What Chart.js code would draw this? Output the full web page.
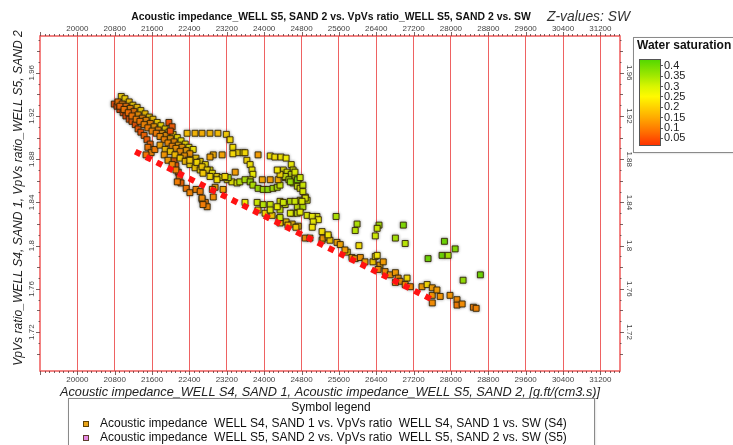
<!DOCTYPE html>
<html>
<head>
<meta charset="utf-8">
<script src="https://cdn.jsdelivr.net/npm/chart.js@4.4.1/dist/chart.umd.min.js"></script>
<style>
  html, body { margin: 0; padding: 0; background: #fff; }
  #wrap { width: 733px; height: 445px; position: relative; overflow: hidden; }
</style>
</head>
<body>
<div id="wrap"><canvas id="c" width="733" height="445"></canvas></div>
<script>
// Axis tick labels
const xTickLabels = ['20000','20800','21600','22400','23200','24000','24800','25600','26400','27200','28000','28800','29600','30400','31200'];
const yTickLabels = ['1.72','1.76','1.8','1.84','1.88','1.92','1.96'];
const swTickLabels = ['0.05','0.1','0.15','0.2','0.25','0.3','0.35','0.4'];

// WELL S4, SAND 1: acoustic impedance, Vp/Vs ratio, water saturation
const s4Imp = [20940,21020,21110,21190,21280,21360,21450,21540,21620,21710,21790,21880,21960,22050,22140,22220,22310,22390,22480,
  20790,20850,20910,20980,21040,21110,21170,21240,21300,21360,21430,21490,21560,
  20870,20960,21040,21130,21210,21300,21390,21470,21560,21640,21730,21810,21900,21990,22070,22160,22240,22330,22410,
  20910,21000,21090,21170,21260,21340,21430,21510,21600,21690,21770,21860,21940,22030,22110,22200,22290,22370,
  21510,21580,21470,21660,
  21960,22030,21990,22070,22110,22160,22180,22220,22330,22410,22540,22630,22670,22740,22780,
  21770,21880,21990,22090,22200,22310,22410,22520,22630,21860,21940,22030,22110,22540,22630,22740,22840,
  22950,23590,23870,24020,24170,24320,24470,24600,24730,24340,24510,24680,
  24880,24980,25240,25260,25370,25410,25560,25780,25880,25950,
  25630,25730,26060,26160,26330,26380,26420,26480,26550,26440,
  26590,26700,26810,26870,26910,27060,27020,26810,27130,27380,
  27490,27600,27600,27700,27770,27600,27980,28130,28130,28240,
  28480,28540];
const s4Vpvs = [1.938,1.936,1.933,1.930,1.928,1.925,1.922,1.919,1.917,1.914,1.911,1.908,1.905,1.903,1.900,1.897,1.894,1.891,1.889,
  1.931,1.929,1.926,1.923,1.920,1.917,1.915,1.912,1.908,1.905,1.902,1.898,1.894,
  1.933,1.931,1.929,1.927,1.924,1.921,1.918,1.916,1.913,1.910,1.907,1.904,1.902,1.899,1.896,1.893,1.891,1.888,1.885,
  1.929,1.926,1.923,1.920,1.917,1.915,1.912,1.909,1.906,1.904,1.901,1.898,1.895,1.892,1.890,1.887,1.883,1.879,
  1.891,1.886,1.884,1.889,
  1.914,1.910,1.906,1.879,1.874,1.868,1.863,1.858,1.853,1.849,1.852,1.850,1.843,1.840,1.836,
  1.893,1.889,1.887,1.884,1.881,1.878,1.875,1.872,1.870,1.884,1.879,1.875,1.870,1.881,1.878,1.875,1.870,
  1.854,1.840,1.833,1.830,1.828,1.825,1.822,1.820,1.818,1.821,1.819,1.817,
  1.807,1.807,1.805,1.807,1.808,1.805,1.803,1.794,1.789,1.788,
  1.801,1.796,1.789,1.785,1.785,1.790,1.791,1.782,1.785,1.778,
  1.776,1.773,1.775,1.770,1.767,1.770,1.764,1.766,1.762,1.762,
  1.764,1.761,1.754,1.759,1.753,1.747,1.754,1.750,1.745,1.746,
  1.743,1.742];
const s4Sw = [.21,.21,.19,.21,.19,.21,.19,.21,.19,.21,.23,.21,.23,.21,.23,.24,.23,.25,.24,
  .04,.04,.04,.05,.04,.05,.06,.05,.06,.05,.07,.06,.07,
  .09,.11,.09,.11,.09,.13,.11,.12,.11,.14,.12,.14,.13,.14,.12,.15,.14,.15,.13,
  .07,.09,.08,.09,.10,.09,.11,.10,.11,.10,.12,.11,.12,.11,.13,.12,.13,.14,
  .09,.11,.09,.10,
  .05,.06,.05,.07,.06,.05,.06,.07,.09,.11,.11,.10,.11,.10,.11,
  .15,.18,.20,.18,.20,.18,.22,.20,.22,.13,.14,.12,.11,.20,.22,.23,.25,
  .15,.25,.20,.22,.20,.22,.20,.18,.20,.20,.18,.20,
  .12,.13,.22,.14,.22,.20,.15,.22,.14,.13,
  .15,.14,.13,.14,.20,.22,.24,.15,.14,.12,
  .12,.13,.14,.12,.13,.22,.12,.14,.12,.14,
  .22,.14,.13,.14,.13,.12,.13,.12,.10,.12,
  .10,.11];

// WELL S5, SAND 2: acoustic impedance, Vp/Vs ratio, water saturation
const s5Imp = [22350,22520,22670,22840,23010,23190,23270,23330,23440,23550,23630,23700,23740,23760,23700,
  22910,23100,23330,23590,23870,24130,24230,24360,24470,24580,24620,23380,22840,
  22410,22560,22670,22780,22890,22990,23100,23210,23310,23420,23480,23590,23700,23760,23870,23980,24080,24190,24280,24340,23230,23960,24130,24300,24450,
  24410,24490,24580,24660,24730,24450,24530,24620,24710,24770,24340,24830,24280,24560,24710,
  22670,22690,22140,22890,22910,23120,22840,22690,22990,23160,
  23850,23980,24130,24340,24450,24560,24770,24880,24340,24620,24770,24130,24280,24710,24830,24920,24710,24560,24340,24920,25130,
  24660,24770,24830,24880,24410,24660,24810,24770,25030,25160,25050,25030,25240,25370,
  25540,25990,25950,26030,26460,26420,26380,26980,26810,27020,27860,28090,27510,27810,27940,28260,28630];
const s5Vpvs = [1.904,1.904,1.904,1.904,1.904,1.903,1.898,1.891,1.886,1.886,1.879,1.875,1.870,1.866,1.861,
  1.884,1.884,1.885,1.886,1.884,1.883,1.882,1.882,1.881,1.875,1.870,1.868,1.882,
  1.879,1.877,1.873,1.870,1.867,1.864,1.863,1.861,1.859,1.858,1.859,1.861,1.859,1.856,1.853,1.852,1.852,1.853,1.854,1.856,1.863,1.861,1.861,1.861,1.863,
  1.870,1.868,1.866,1.863,1.860,1.864,1.861,1.858,1.855,1.853,1.866,1.856,1.870,1.859,1.861,
  1.844,1.838,1.859,1.852,1.845,1.852,1.864,1.867,1.861,1.864,
  1.840,1.838,1.838,1.841,1.838,1.841,1.842,1.845,1.833,1.830,1.835,1.833,1.836,1.836,1.836,1.842,1.830,1.830,1.826,1.828,1.827,
  1.868,1.863,1.850,1.844,1.840,1.841,1.841,1.831,1.827,1.824,1.822,1.817,1.813,1.810,
  1.827,1.820,1.814,1.800,1.819,1.816,1.809,1.819,1.807,1.802,1.804,1.797,1.788,1.791,1.791,1.768,1.773];
const s5Sw = [.18,.17,.16,.17,.18,.20,.22,.23,.22,.24,.22,.24,.25,.26,.28,
  .16,.15,.22,.22,.14,.24,.23,.24,.25,.26,.28,.14,.15,
  .20,.22,.20,.22,.24,.22,.25,.24,.26,.28,.32,.33,.35,.33,.35,.34,.36,.34,.33,.30,.33,.15,.14,.16,.20,
  .25,.28,.30,.30,.32,.30,.33,.35,.30,.28,.22,.30,.24,.35,.38,
  .12,.10,.10,.14,.12,.15,.22,.20,.23,.22,
  .30,.32,.30,.28,.30,.32,.30,.28,.30,.32,.30,.28,.26,.30,.32,.30,.30,.28,.30,.28,.27,
  .28,.30,.28,.27,.30,.30,.28,.27,.26,.25,.26,.24,.23,.24,
  .33,.33,.32,.23,.34,.30,.30,.38,.34,.32,.40,.38,.40,.40,.34,.36,.40];

// Lower-bound trend line
const trendImp = [21240, 27600];
const trendVpvs = [1.887, 1.750];

const FONT = '"Liberation Sans", Arial, Helvetica, sans-serif';
const SW_MIN = 0.016, SW_MAX = 0.43;
const swStops = [
  [0.016, [255, 51, 0]],
  [0.08,  [255, 112, 0]],
  [0.15,  [255, 172, 0]],
  [0.25,  [255, 250, 0]],
  [0.30,  [215, 245, 0]],
  [0.35,  [160, 232, 0]],
  [0.43,  [80, 215, 0]]
];
function swRgb(v) {
  if (v <= swStops[0][0]) return swStops[0][1];
  for (let i = 1; i < swStops.length; i++) {
    const [v1, c1] = swStops[i];
    const [v0, c0] = swStops[i - 1];
    if (v <= v1) {
      const t = (v - v0) / (v1 - v0);
      return c0.map((c, k) => Math.round(c + (c1[k] - c) * t));
    }
  }
  return swStops[swStops.length - 1][1];
}
function swColor(v) { const c = swRgb(v); return `rgb(${c[0]},${c[1]},${c[2]})`; }

function toPoints(imp, vpvs) { return imp.map((x, i) => ({ x, y: vpvs[i] })); }

function pointDataset(label, imp, vpvs, sw, order, legendColor) {
  return {
    label,
    data: toPoints(imp, vpvs),
    order,
    legendColor,
    pointStyle: 'rect',
    pointRadius: 4.2,
    pointBorderWidth: 1,
    pointBackgroundColor: ctx => swColor(sw[ctx.dataIndex]),
    pointBorderColor: 'rgba(45,30,0,0.85)',
    showLine: false
  };
}

function fitFont(ctx, text, style, size, width) {
  ctx.font = `${style} ${size}px ${FONT}`;
  const w = ctx.measureText(text).width;
  const s = Math.max(size * 0.8, Math.min(size * 1.2, size * width / w));
  ctx.font = `${style} ${s.toFixed(2)}px ${FONT}`;
}

const glow = {
  id: 'glow',
  beforeDatasetDraw(chart, args) {
    if (!chart.data.datasets[args.index].showLine) {
      chart.ctx.save();
      chart.ctx.shadowColor = 'rgba(70,70,70,0.5)';
      chart.ctx.shadowBlur = 3;
    }
  },
  afterDatasetDraw(chart, args) {
    if (!chart.data.datasets[args.index].showLine) chart.ctx.restore();
  }
};

const frame = {
  id: 'frame',
  afterDraw(chart) {
    const { ctx, chartArea: a, scales: { x, y } } = chart;
    ctx.save();

    // plot frame
    ctx.strokeStyle = 'rgba(238,80,80,0.95)';
    ctx.lineWidth = 1.5;
    ctx.strokeRect(a.left, a.top, a.right - a.left, a.bottom - a.top);

    // tick marks on all four sides
    ctx.strokeStyle = 'rgba(90,60,60,0.8)';
    ctx.lineWidth = 1;
    ctx.beginPath();
    for (let k = 192; k * 100 <= x.max; k++) {
      const px = Math.round(x.getPixelForValue(k * 100)) + 0.5;
      const L = k % 8 === 0 ? 4 : 2;
      ctx.moveTo(px, a.top); ctx.lineTo(px, a.top - L);
      ctx.moveTo(px, a.bottom); ctx.lineTo(px, a.bottom + L);
    }
    for (let k = 170; k <= 199; k += 1) {
      const v = k / 100;
      if (v < y.min || v > y.max) continue;
      const py = Math.round(y.getPixelForValue(v)) + 0.5;
      const L = k % 4 === 0 ? 4 : (k % 2 === 0 ? 3 : 1.5);
      ctx.moveTo(a.left, py); ctx.lineTo(a.left - L, py);
      ctx.moveTo(a.right, py); ctx.lineTo(a.right + L, py);
    }
    ctx.stroke();

    // x tick labels, top and bottom
    ctx.fillStyle = '#444';
    ctx.font = `8px ${FONT}`;
    ctx.textAlign = 'center';
    ctx.textBaseline = 'middle';
    xTickLabels.forEach(t => {
      const px = x.getPixelForValue(+t);
      ctx.fillText(t, px, a.top - 7);
      ctx.fillText(t, px, a.bottom + 9);
    });
    // y tick labels, rotated
    yTickLabels.forEach(t => {
      const py = y.getPixelForValue(+t);
      ctx.save(); ctx.translate(a.left - 8, py); ctx.rotate(-Math.PI / 2); ctx.fillText(t, 0, 0); ctx.restore();
      ctx.save(); ctx.translate(a.right + 9, py); ctx.rotate(Math.PI / 2); ctx.fillText(t, 0, 0); ctx.restore();
    });

    // chart title
    const title = 'Acoustic impedance_WELL S5, SAND 2 vs. VpVs ratio_WELL S5, SAND 2 vs. SW';
    ctx.fillStyle = '#111';
    fitFont(ctx, title, 'bold', 11, 400);
    ctx.textAlign = 'center';
    ctx.fillText(title, 331, 17);
    ctx.fillStyle = '#333';
    fitFont(ctx, 'Z-values: SW', 'italic', 13, 83);
    ctx.textAlign = 'left';
    ctx.fillText('Z-values: SW', 547, 17);

    // axis titles
    const xTitle = 'Acoustic impedance_WELL S4, SAND 1, Acoustic impedance_WELL S5, SAND 2, [g.ft/(cm3.s)]';
    ctx.fillStyle = '#222';
    fitFont(ctx, xTitle, 'italic', 13, 540);
    ctx.textAlign = 'center';
    ctx.fillText(xTitle, 330, 392);
    const yTitle = 'VpVs ratio_WELL S4, SAND 1, VpVs ratio_WELL S5, SAND 2';
    fitFont(ctx, yTitle, 'italic', 13, 336);
    ctx.save(); ctx.translate(19, 198); ctx.rotate(-Math.PI / 2); ctx.fillText(yTitle, 0, 0); ctx.restore();

    // colour scale box
    ctx.save();
    ctx.shadowColor = 'rgba(0,0,0,0.25)'; ctx.shadowBlur = 2; ctx.shadowOffsetX = 1; ctx.shadowOffsetY = 1;
    ctx.fillStyle = '#fff';
    ctx.fillRect(633, 37, 120, 115);
    ctx.restore();
    ctx.strokeStyle = '#8a8a8a'; ctx.lineWidth = 1;
    ctx.strokeRect(633.5, 37.5, 120, 115);
    ctx.fillStyle = '#111';
    ctx.font = `bold 12px ${FONT}`;
    ctx.textAlign = 'left';
    ctx.fillText('Water saturation', 637, 46);
    const barTop = 59, barBot = 145, barL = 639, barW = 21;
    const g = ctx.createLinearGradient(0, barTop, 0, barBot);
    swStops.forEach(([v, c]) => g.addColorStop((SW_MAX - v) / (SW_MAX - SW_MIN), `rgb(${c[0]},${c[1]},${c[2]})`));
    ctx.fillStyle = g;
    ctx.fillRect(barL, barTop, barW, barBot - barTop);
    ctx.strokeStyle = '#555';
    ctx.strokeRect(barL + 0.5, barTop + 0.5, barW, barBot - barTop);
    ctx.fillStyle = '#222';
    ctx.font = `11px ${FONT}`;
    swTickLabels.forEach(t => {
      const py = barBot - (+t - SW_MIN) / (SW_MAX - SW_MIN) * (barBot - barTop);
      ctx.beginPath(); ctx.moveTo(barL + barW, Math.round(py) + 0.5); ctx.lineTo(barL + barW + 3, Math.round(py) + 0.5); ctx.stroke();
      ctx.fillText(t, barL + barW + 4, py + 0.5);
    });

    // symbol legend
    ctx.save();
    ctx.shadowColor = 'rgba(0,0,0,0.25)'; ctx.shadowBlur = 2; ctx.shadowOffsetX = 1; ctx.shadowOffsetY = 1;
    ctx.fillStyle = '#fff';
    ctx.fillRect(68, 398, 526, 60);
    ctx.restore();
    ctx.strokeStyle = '#8a8a8a';
    ctx.strokeRect(68.5, 398.5, 526, 60);
    ctx.fillStyle = '#111';
    ctx.font = `12px ${FONT}`;
    ctx.textAlign = 'center';
    ctx.fillText('Symbol legend', 331, 408);
    chart.data.datasets
      .filter(d => !d.showLine)
      .sort((p, q) => q.order - p.order)
      .forEach((d, i) => {
        const yy = 424 + i * 14;
        ctx.fillStyle = d.legendColor;
        ctx.fillRect(83, yy - 3, 6, 6);
        ctx.strokeStyle = 'rgba(60,40,0,0.8)';
        ctx.strokeRect(83.5, yy - 2.5, 5, 5);
        ctx.fillStyle = '#111';
        ctx.textAlign = 'left';
        ctx.fillText(d.label, 100, yy);
      });

    ctx.restore();
  }
};

new Chart(document.getElementById('c'), {
  type: 'scatter',
  data: {
    datasets: [
      {
        label: 'Lower bound',
        data: toPoints(trendImp, trendVpvs),
        order: 0,
        showLine: true,
        borderColor: '#ff1212',
        borderWidth: 6,
        borderDash: [6, 6],
        borderCapStyle: 'butt',
        pointRadius: 0,
        fill: false
      },
      pointDataset('Acoustic impedance  WELL S5, SAND 2 vs. VpVs ratio  WELL S5, SAND 2 vs. SW (S5)', s5Imp, s5Vpvs, s5Sw, 1, '#e58ae5'),
      pointDataset('Acoustic impedance  WELL S4, SAND 1 vs. VpVs ratio  WELL S4, SAND 1 vs. SW (S4)', s4Imp, s4Vpvs, s4Sw, 2, '#e8a317')
    ]
  },
  options: {
    responsive: false,
    animation: false,
    devicePixelRatio: 1,
    layout: { padding: { left: 40, top: 36, right: 113, bottom: 74 } },
    plugins: { legend: { display: false }, tooltip: { enabled: false } },
    scales: {
      x: {
        type: 'linear', min: 19200, max: 31620,
        afterBuildTicks: s => { s.ticks = xTickLabels.map(t => ({ value: +t })); },
        ticks: { display: false },
        grid: { color: 'rgba(235,70,70,0.85)', lineWidth: 1, drawTicks: false },
        border: { display: false }
      },
      y: {
        type: 'linear', min: 1.684, max: 1.994,
        afterBuildTicks: s => { s.ticks = yTickLabels.map(t => ({ value: +t })); },
        ticks: { display: false },
        grid: { display: false, drawTicks: false },
        border: { display: false }
      }
    }
  },
  plugins: [glow, frame]
});
</script>
</body>
</html>
